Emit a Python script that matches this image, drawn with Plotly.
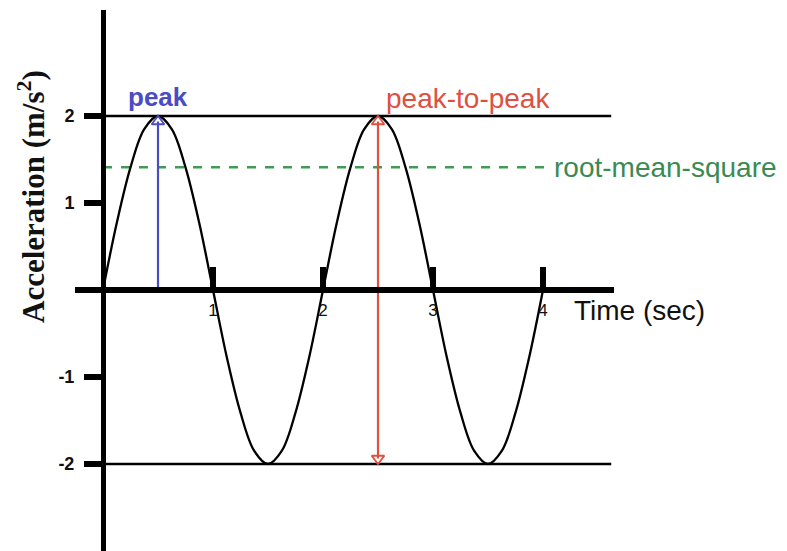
import plotly.graph_objects as go

# ---- data ----
time_s = [0, 0.125, 0.25, 0.375, 0.5, 0.625, 0.75, 0.875,
          1, 1.125, 1.25, 1.375, 1.5, 1.625, 1.75, 1.875,
          2, 2.125, 2.25, 2.375, 2.5, 2.625, 2.75, 2.875,
          3, 3.125, 3.25, 3.375, 3.5, 3.625, 3.75, 3.875, 4]
accel = [0, 0.77, 1.41, 1.85, 2, 1.85, 1.41, 0.77,
         0, -0.77, -1.41, -1.85, -2, -1.85, -1.41, -0.77,
         0, 0.77, 1.41, 1.85, 2, 1.85, 1.41, 0.77,
         0, -0.77, -1.41, -1.85, -2, -1.85, -1.41, -0.77, 0]
x_ticks = [1, 2, 3, 4]
x_tick_labels = ["1", "2", "3", "4"]
y_ticks = [-2, -1, 1, 2]
y_tick_labels = ["-2", "-1", "1", "2"]
peak_value = 2
peak_time = 0.5
p2p_time = 2.5
rms_value = 1.41
ref_line_end = 4.62
rms_line_end = 4.05

# ---- layout geometry (pixels) ----
W, H = 787, 551
TOP = 10
X0_PX, Y0_PX = 103, 290
PX_X, PX_Y = 110, 87
X_DOM = (75, 614)

x_range = [-(X0_PX - X_DOM[0]) / PX_X, (X_DOM[1] - X0_PX) / PX_X]
y_range = [-(H - Y0_PX) / PX_Y, (Y0_PX - TOP) / PX_Y]
plot_h = H - TOP

BLUE = "#4b4bc4"
RED = "#e0503f"
GREEN = "#3f9c52"
GREEN_TXT = "#3b8a52"
SANS = "Liberation Sans, Arial, sans-serif"
SERIF = "Liberation Serif, Times New Roman, serif"

HEAD = 11
head_off = (HEAD / 2) / PX_Y

fig = go.Figure()

# reference lines at +/- peak and rms
fig.add_trace(go.Scatter(x=[0, ref_line_end], y=[peak_value, peak_value], mode="lines",
                         line=dict(color="black", width=2.5), hoverinfo="skip"))
fig.add_trace(go.Scatter(x=[0, ref_line_end], y=[-peak_value, -peak_value], mode="lines",
                         line=dict(color="black", width=2.5), hoverinfo="skip"))
fig.add_trace(go.Scatter(x=[0, rms_line_end], y=[rms_value, rms_value], mode="lines",
                         line=dict(color=GREEN, width=2.5, dash="dash"), hoverinfo="skip"))

# sine wave
fig.add_trace(go.Scatter(x=time_s, y=accel, mode="lines",
                         line=dict(color="black", width=2.3, shape="spline", smoothing=1.0),
                         hoverinfo="skip"))

# peak arrow (blue)
fig.add_trace(go.Scatter(x=[peak_time, peak_time], y=[0, peak_value - head_off], mode="lines",
                         line=dict(color=BLUE, width=2.2), hoverinfo="skip"))
fig.add_trace(go.Scatter(x=[peak_time], y=[peak_value - head_off], mode="markers",
                         marker=dict(symbol="triangle-up-open", size=HEAD, color=BLUE,
                                     line=dict(color=BLUE, width=1.8)),
                         hoverinfo="skip", cliponaxis=False))

# peak-to-peak arrow (red)
fig.add_trace(go.Scatter(x=[p2p_time, p2p_time], y=[peak_value - head_off, -peak_value + head_off],
                         mode="lines", line=dict(color=RED, width=2.2), hoverinfo="skip"))
fig.add_trace(go.Scatter(x=[p2p_time, p2p_time], y=[peak_value - head_off, -peak_value + head_off],
                         mode="markers",
                         marker=dict(symbol=["triangle-up-open", "triangle-down-open"], size=HEAD,
                                     color=RED, line=dict(color=RED, width=1.8)),
                         hoverinfo="skip", cliponaxis=False))

annotations = [
    dict(text="Acceleration (m/s<sup>2</sup>)", textangle=-90, xref="paper", yref="paper",
         x=31 / W, y=(H - 197) / plot_h, showarrow=False, xanchor="center", yanchor="middle",
         font=dict(family=SERIF, size=31, color="#111", weight="bold")),
    dict(text="peak", xref="x", yref="y", x=peak_time, y=peak_value, yshift=2,
         showarrow=False, xanchor="center", yanchor="bottom",
         font=dict(family=SANS, size=26, color=BLUE, weight="bold")),
    dict(text="peak-to-peak", xref="x", yref="y", x=p2p_time, y=peak_value, xshift=6, yshift=0,
         showarrow=False, xanchor="left", yanchor="bottom",
         font=dict(family=SANS, size=28, color=RED)),
    dict(text="root-mean-square", xref="paper", yref="y", x=552 / W, y=rms_value,
         showarrow=False, xanchor="left", yanchor="middle",
         font=dict(family=SANS, size=28, color=GREEN_TXT)),
    dict(text="Time (sec)", xref="paper", yref="paper", x=572 / W, y=(H - 311) / plot_h,
         showarrow=False, xanchor="left", yanchor="middle",
         font=dict(family=SANS, size=28, color="#111")),
]

fig.update_layout(
    width=W, height=H,
    margin=dict(l=0, r=0, t=TOP, b=0, autoexpand=False),
    paper_bgcolor="white", plot_bgcolor="white",
    showlegend=False,
    annotations=annotations,
    xaxis=dict(domain=[X_DOM[0] / W, X_DOM[1] / W], range=x_range, anchor="free",
               position=(H - Y0_PX) / plot_h, showline=True, linewidth=6, linecolor="black",
               ticks="inside", ticklen=20, tickwidth=6, tickcolor="black",
               tickvals=x_ticks, ticktext=x_tick_labels, ticklabelstandoff=3,
               tickfont=dict(family=SANS, size=17, color="#111"),
               showgrid=False, zeroline=False, fixedrange=True, automargin=False),
    yaxis=dict(domain=[0, 1], range=y_range, anchor="free", position=X0_PX / W,
               showline=True, linewidth=5, linecolor="black",
               ticks="outside", ticklen=17, tickwidth=6, tickcolor="black",
               tickvals=y_ticks, ticktext=y_tick_labels, ticklabelstandoff=6,
               tickfont=dict(family=SANS, size=18, color="#111", weight="bold"),
               showgrid=False, zeroline=False, fixedrange=True, automargin=False),
)

fig.write_html("out.html", config={"displayModeBar": False},
               post_script="document.body.style.margin='0';document.body.style.overflow='hidden';")
